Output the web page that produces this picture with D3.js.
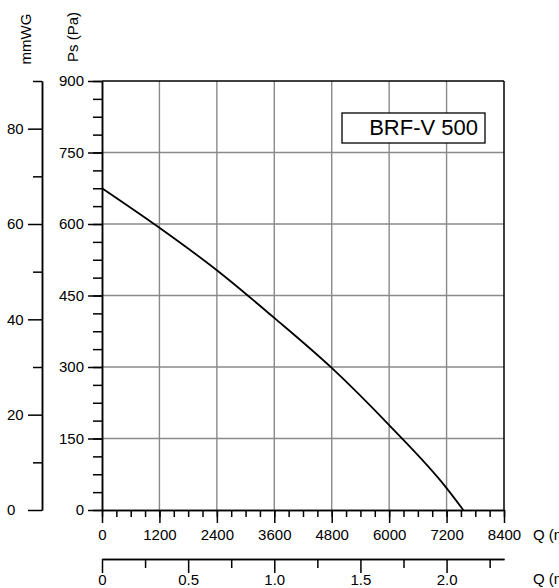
<!DOCTYPE html>
<html>
<head>
<meta charset="utf-8">
<title>BRF-V 500</title>
<style>
body { margin: 0; background: #fff; }
svg { display: block; font-family: "Liberation Sans", Arial, sans-serif; }
.axis text { font-size: 15px; fill: #000; font-family: "Liberation Sans", Arial, sans-serif; }
.axis path, .axis line { stroke: #000; stroke-width: 1.5px; }
.grid line { stroke: #8a8a8a; stroke-width: 1.4px; }
.label { font-size: 15px; fill: #000; }
</style>
</head>
<body>
<div id="chart"></div>
<script src="https://cdn.jsdelivr.net/npm/d3@7"></script>
<script>
// fan curve: flow in m3/h, static pressure in Pa
const flowM3h = [0, 1200, 2400, 3600, 4800, 6000, 7200, 7550];
const pressurePa = [675, 592, 503, 403, 298, 178, 46, 0];

const paTicks = [0, 150, 300, 450, 600, 750, 900];
const mmwgTicks = [0, 20, 40, 60, 80];
const flowTicks = [0, 1200, 2400, 3600, 4800, 6000, 7200, 8400];
const flowSecTicks = [0, 0.5, 1.0, 1.5, 2.0];
const flowSecLabels = ["0", "0.5", "1.0", "1.5", "2.0"];

const width = 559, height = 588;
const plotL = 102, plotR = 504, plotT = 81, plotB = 510;

const svg = d3.select("#chart").append("svg")
    .attr("width", width)
    .attr("height", height);

const x = d3.scaleLinear().domain([0, 8400]).range([plotL, plotR]);
const y = d3.scaleLinear().domain([0, 900]).range([plotB, plotT]);
const yMm = d3.scaleLinear().domain([0, 90]).range([plotB, plotT]);   // 1 mmWG ~ 10 Pa
const xSec = d3.scaleLinear().domain([0, 8400 / 3600]).range([plotL, plotR]);

// grid
const grid = svg.append("g").attr("class", "grid");
grid.selectAll(".h").data(paTicks.filter(d => d > 0 && d < 900)).enter()
    .append("line")
    .attr("x1", plotL).attr("x2", plotR)
    .attr("y1", d => y(d)).attr("y2", d => y(d));
grid.selectAll(".v").data(flowTicks.filter(d => d > 0 && d < 8400)).enter()
    .append("line")
    .attr("y1", plotT).attr("y2", plotB)
    .attr("x1", d => x(d)).attr("x2", d => x(d));

// frame top / right
svg.append("line").attr("x1", plotL).attr("x2", plotR).attr("y1", plotT).attr("y2", plotT)
    .attr("stroke", "#000").attr("stroke-width", 1.5);
svg.append("line").attr("x1", plotR).attr("x2", plotR).attr("y1", plotT).attr("y2", plotB)
    .attr("stroke", "#000").attr("stroke-width", 1.5);

// Pa axis
svg.append("g").attr("class", "axis")
    .attr("transform", `translate(${plotL},0)`)
    .call(d3.axisLeft(y).tickValues(d3.range(0, 900.1, 37.5)).tickSize(9).tickSizeOuter(0).tickFormat(""));
svg.append("g").attr("class", "axis")
    .attr("transform", `translate(${plotL},0)`)
    .call(d3.axisLeft(y).tickValues(paTicks).tickSize(14).tickSizeOuter(0).tickPadding(4));

// mmWG axis
const mmAxis = svg.append("g").attr("class", "axis")
    .attr("transform", "translate(42,0)");
mmAxis.call(d3.axisLeft(yMm).tickValues(d3.range(10, 91, 20)).tickSize(9).tickSizeOuter(0).tickFormat(""));
const mmMajor = svg.append("g").attr("class", "axis")
    .attr("transform", "translate(42,0)")
    .call(d3.axisLeft(yMm).tickValues(mmwgTicks).tickSize(14).tickSizeOuter(0));
mmMajor.selectAll("text").attr("text-anchor", "start").attr("x", -35);

// Q m3/h axis
svg.append("g").attr("class", "axis")
    .attr("transform", `translate(0,${plotB})`)
    .call(d3.axisBottom(x).tickValues(d3.range(0, 8401, 300)).tickSize(7).tickSizeOuter(0).tickFormat(""));
svg.append("g").attr("class", "axis")
    .attr("transform", `translate(0,${plotB})`)
    .call(d3.axisBottom(x).tickValues(flowTicks).tickSize(13).tickSizeOuter(0).tickPadding(6)
        .tickFormat(d3.format("d")));

// Q m3/s axis
const secY = 559;
svg.append("g").attr("class", "axis")
    .attr("transform", `translate(0,${secY})`)
    .call(d3.axisBottom(xSec).tickValues(d3.range(0.25, 2.3, 0.5)).tickSize(9).tickSizeOuter(0).tickFormat(""));
svg.append("g").attr("class", "axis")
    .attr("transform", `translate(0,${secY})`)
    .call(d3.axisBottom(xSec).tickValues(flowSecTicks).tickSize(14).tickSizeOuter(0).tickPadding(1)
        .tickFormat((d, i) => flowSecLabels[i]));

// curve
const line = d3.line()
    .x((d, i) => x(flowM3h[i]))
    .y(d => y(d))
    .curve(d3.curveMonotoneX);
svg.append("path")
    .datum(pressurePa)
    .attr("d", line)
    .attr("fill", "none")
    .attr("stroke", "#000")
    .attr("stroke-width", 1.8);

// titles
svg.append("text").attr("class", "label")
    .attr("transform", "translate(31,39) rotate(-90)")
    .attr("text-anchor", "middle")
    .text("mmWG");
svg.append("text").attr("class", "label")
    .attr("transform", "translate(78,37) rotate(-90)")
    .attr("text-anchor", "middle")
    .text("Ps (Pa)");
svg.append("text").attr("class", "label").attr("x", 533).attr("y", 540).text("Q (m³/h)");
svg.append("text").attr("class", "label").attr("x", 533).attr("y", 584).text("Q (m³/s)");

// model box
svg.append("rect")
    .attr("x", 342).attr("y", 113).attr("width", 143).attr("height", 30)
    .attr("fill", "#fff").attr("stroke", "#000").attr("stroke-width", 1.3);
svg.append("text")
    .attr("x", 478).attr("y", 135)
    .attr("text-anchor", "end")
    .style("font-size", "22px")
    .text("BRF-V 500");
</script>
</body>
</html>
